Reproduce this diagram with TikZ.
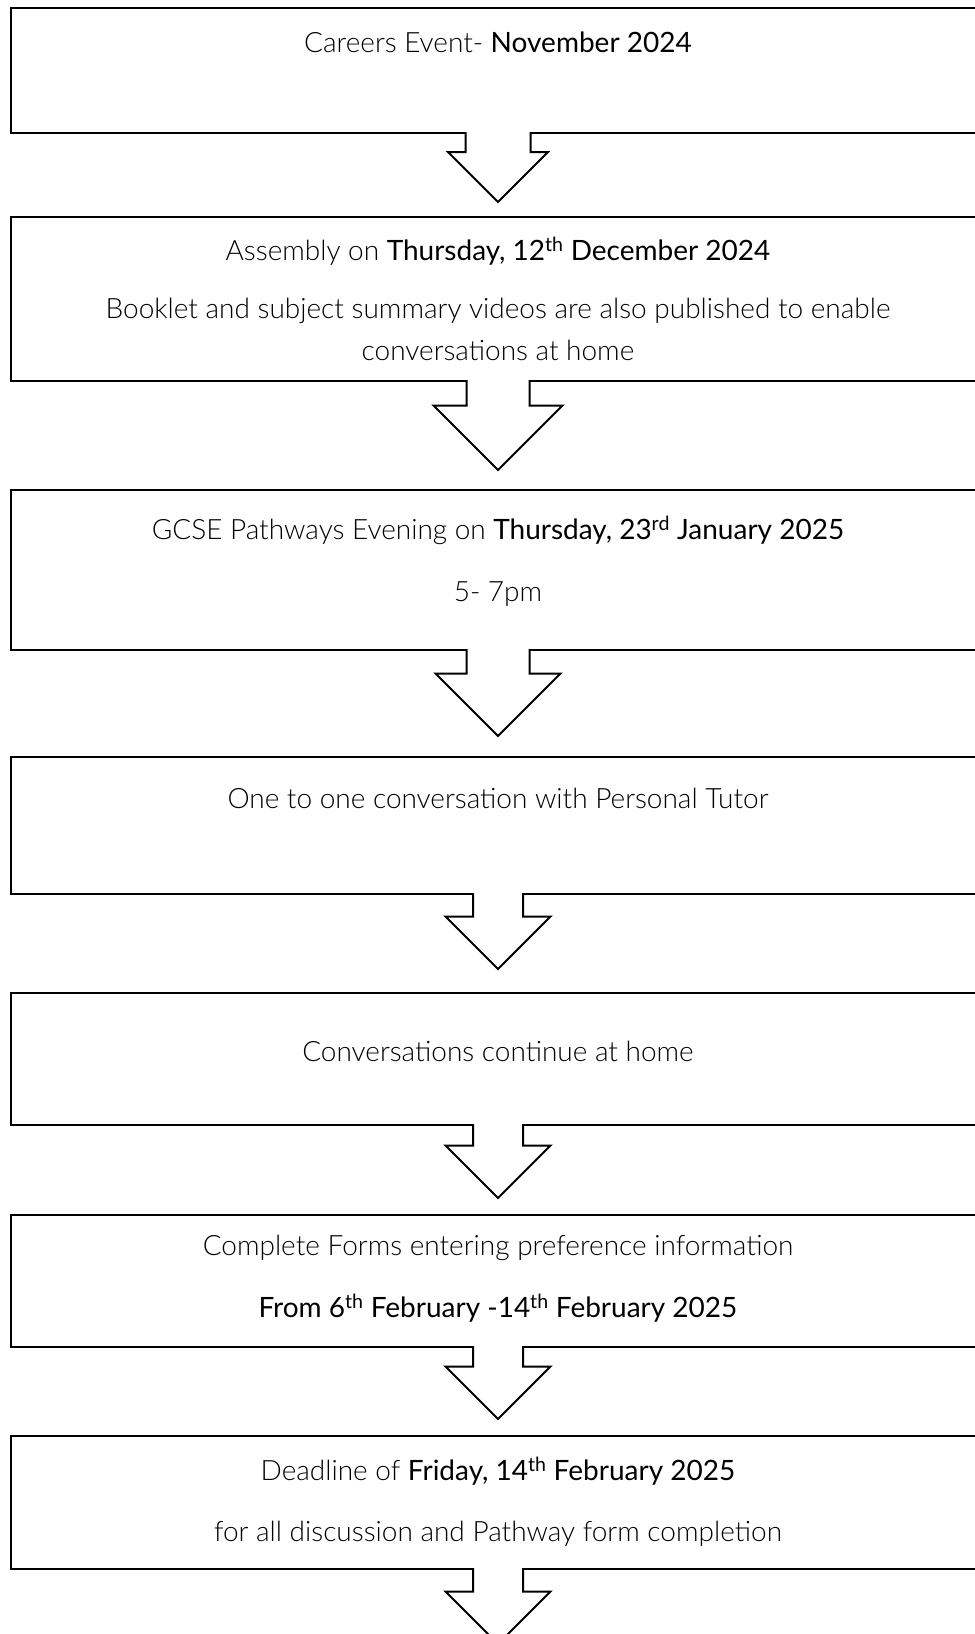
\documentclass[tikz,border=0pt]{standalone}
\usepackage{fontspec}
\setmainfont{Lato}[UprightFont={* Light},BoldFont={*}]
\usetikzlibrary{calc}
\newcommand{\hl}[1]{\textbf{#1}}
% block arrow: from, to, gap above target, stem half width, head half width
\newcommand{\stagearrow}[5]{%
  \filldraw[fill=white, line width=2pt, line join=miter]
    ($(#1.south)+(-#4,-1)$) -- ($(#2)+(-#4,-#3-#5)$) -- ($(#2)+(-#5,-#3-#5)$)
    -- ($(#2)+(0,-#3)$) -- ($(#2)+(#5,-#3-#5)$) -- ($(#2)+(#4,-#3-#5)$)
    -- ($(#1.south)+(#4,-1)$);}

\begin{document}
\begin{tikzpicture}[x=1pt, y=-1pt,
  every node/.style={font=\fontsize{28}{34}\selectfont},
  stagebox/.style={draw, line width=2pt, rectangle, minimum width=973.5pt, outer sep=0pt, inner sep=0pt, anchor=north}]
\useasboundingbox (0,0) rectangle (975,1634);
\clip (0,0) rectangle (975,1634);
% Stage boxes
\node[stagebox, minimum height=125pt] (box1) at (498,8) {};
\node[stagebox, minimum height=164pt] (box2) at (498,217) {};
\node[stagebox, minimum height=160pt] (box3) at (498,490) {};
\node[stagebox, minimum height=137pt] (box4) at (498,757) {};
\node[stagebox, minimum height=132pt] (box5) at (498,993) {};
\node[stagebox, minimum height=132pt] (box6) at (498,1215) {};
\node[stagebox, minimum height=133pt] (box7) at (498,1436) {};
\coordinate (foot) at (498,1660);
% Texts
\node (text1) at (498,42) {Careers Event- \hl{November 2024}};
\node (text2a) at (498,251) {Assembly on \hl{Thursday, 12\textsuperscript{th} December 2024}};
\node (text2b) at (498,311) {Booklet and subject summary videos are also published to enable};
\node (text2c) at (498,350) {conversations at home};
\node (text3a) at (498,530) {GCSE Pathways Evening on \hl{Thursday, 23\textsuperscript{rd} January 2025}};
\node (text3b) at (498,594) {5- 7pm};
\node (text4) at (498,798) {One to one conversation with Personal Tutor};
\node (text5) at (498,1051) {Conversations continue at home};
\node (text6a) at (498,1248) {Complete Forms entering preference information};
\node (text6b) at (498,1308) {\hl{From 6\textsuperscript{th} February -14\textsuperscript{th} February 2025}};
\node (text7a) at (498,1471) {Deadline of \hl{Friday, 14\textsuperscript{th} February 2025}};
\node (text7b) at (498,1534) {for all discussion and Pathway form completion};
% Arrows
\stagearrow{box1}{box2.north}{15}{32.5}{50}
\stagearrow{box2}{box3.north}{20}{31.5}{64.5}
\stagearrow{box3}{box4.north}{21}{31.5}{62.5}
\stagearrow{box4}{box5.north}{24}{25}{52.5}
\stagearrow{box5}{box6.north}{17}{25}{52.5}
\stagearrow{box6}{box7.north}{17}{25}{52.5}
\stagearrow{box7}{foot}{16}{25}{52.5}
\end{tikzpicture}
\end{document}
